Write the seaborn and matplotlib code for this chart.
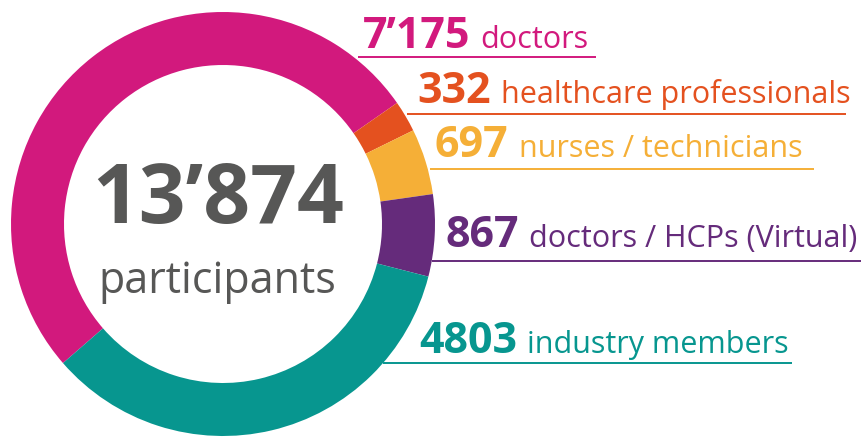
import matplotlib.pyplot as plt
import seaborn as sns

# participant groups, clockwise from the doctors slice
categories = ["doctors", "healthcare professionals", "nurses / technicians",
              "doctors / HCPs (Virtual)", "industry members"]
counts = [7175, 332, 697, 867, 4803]
count_labels = ["7’175", "332", "697", "867", "4803"]
colors = ["#D2197D", "#E4511F", "#F5AF37", "#652B7B", "#07968F"]

# label layout in pixels (text x, baseline y, underline x0, x1, y)
label_pos = [(363, 48, 358, 596, 57),
             (417, 103, 407, 846, 114),
             (435, 157, 430, 814, 169),
             (446, 247, 432, 861, 261),
             (419, 353, 383, 792, 363)]

sns.set_theme(style="white")
plt.rcParams["font.family"] = ["Open Sans", "DejaVu Sans"]

W, H = 862, 440
fig = plt.figure(figsize=(W / 100, H / 100), dpi=100)
ax = fig.add_axes([0, 0, 1, 1])

palette = sns.color_palette(colors)
ax.pie(counts, colors=palette, startangle=221, counterclock=False,
       center=(223, H - 224), radius=212,
       wedgeprops=dict(width=53, edgecolor="none"))
ax.set_xlim(0, W)
ax.set_ylim(0, H)
ax.set_axis_off()

total = f"{sum(counts):,}".replace(",", "’")
ax.text(218, H - 223, total, ha="center", va="baseline", fontsize=59,
        fontweight="bold", color="#575756")
ax.text(217, H - 293, "participants", ha="center", va="baseline",
        fontsize=31, color="#575756")

fig.canvas.draw()
renderer = fig.canvas.get_renderer()
for cat, num, col, (tx, ty, lx0, lx1, ly) in zip(categories, count_labels, colors, label_pos):
    t = ax.text(tx, H - ty, num, ha="left", va="baseline", fontsize=31,
                fontweight="bold", color=col)
    bb = t.get_window_extent(renderer)
    ax.text(bb.x1 + 10, H - ty, cat, ha="left", va="baseline", fontsize=22,
            color=col)
    ax.plot([lx0, lx1], [H - ly, H - ly], color=col, lw=1.4,
            solid_capstyle="butt")

fig.savefig("out.png", dpi=100)
